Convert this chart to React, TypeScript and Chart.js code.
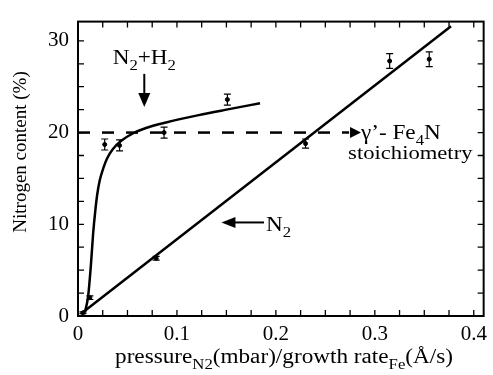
import React, { useEffect, useRef } from 'react';
import Chart from 'chart.js/auto';

// N2+H2 measurements
const h2X = [0.012, 0.027, 0.042, 0.087, 0.151];
const h2Y = [2.0, 18.7, 18.6, 20.0, 23.6];
const h2Err = [0.2, 0.6, 0.6, 0.6, 0.6];

// N2 measurements
const n2X = [0.005, 0.079, 0.23, 0.315, 0.355];
const n2Y = [0.35, 6.3, 18.8, 27.8, 28.0];
const n2Err = [0.1, 0.2, 0.5, 0.8, 0.8];

// N2+H2 guide curve
const h2FitX = [0.007, 0.0103, 0.013, 0.0153, 0.0175, 0.0195, 0.022, 0.0255, 0.0295, 0.0353, 0.0437, 0.0553, 0.0687, 0.089, 0.122, 0.150, 0.184];
const h2FitY = [0.4, 2.2, 5.5, 9.0, 11.5, 13.3, 14.8, 16.1, 17.2, 18.2, 19.1, 19.9, 20.5, 21.1, 21.9, 22.5, 23.2];

// N2 linear fit
const n2FitX = [0.0037, 0.377];
const n2FitY = [0.3, 31.6];

// gamma'-Fe4N stoichiometry line
const stoichX = [0, 0.274];
const stoichY = [20, 20];

// axis ticks (major labelled, minor unlabelled)
const xTickVals = [0, 0.025, 0.05, 0.075, 0.1, 0.125, 0.15, 0.175, 0.2, 0.225, 0.25, 0.275, 0.3, 0.325, 0.35, 0.375, 0.4];
const yTickVals = [0, 2.5, 5, 7.5, 10, 12.5, 15, 17.5, 20, 22.5, 25, 27.5, 30];
const xMajor = [0, 0.1, 0.2, 0.3, 0.4];
const yMajor = [0, 10, 20, 30];
const xLabels = ['0', '0.1', '0.2', '0.3', '0.4'];
const yLabels = ['0', '10', '20', '30'];

const FONT = '"Liberation Serif", "Times New Roman", serif';
const STRETCH = 1.16;

type Seg = { t: string; sub?: boolean };

function drawRich(ctx: CanvasRenderingContext2D, segs: Seg[], x: number, y: number, size: number, align: 'left' | 'center') {
  const subSize = size * 0.72;
  let total = 0;
  const widths = segs.map((s) => {
    ctx.font = `${s.sub ? subSize : size}px ${FONT}`;
    const w = ctx.measureText(s.t).width * STRETCH;
    total += w;
    return w;
  });
  let cx = align === 'center' ? x - total / 2 : x;
  ctx.textAlign = 'left';
  ctx.textBaseline = 'alphabetic';
  segs.forEach((s, i) => {
    ctx.font = `${s.sub ? subSize : size}px ${FONT}`;
    ctx.save();
    ctx.translate(cx, s.sub ? y + size * 0.3 : y);
    ctx.scale(STRETCH, 1);
    ctx.fillText(s.t, 0, 0);
    ctx.restore();
    cx += widths[i];
  });
}

const decorPlugin = {
  id: 'decor',
  afterDatasetsDraw(chart: any) {
    const ctx: CanvasRenderingContext2D = chart.ctx;
    const xs = chart.scales.x;
    const ys = chart.scales.y;
    const { left, right, top, bottom } = chart.chartArea;
    ctx.save();
    ctx.strokeStyle = '#000';
    ctx.fillStyle = '#000';

    // error bars
    const bars = (X: number[], Y: number[], E: number[]) => {
      ctx.lineWidth = 1.2;
      X.forEach((xv, i) => {
        const px = xs.getPixelForValue(xv);
        const y1 = ys.getPixelForValue(Y[i] + E[i]);
        const y2 = ys.getPixelForValue(Y[i] - E[i]);
        ctx.beginPath();
        ctx.moveTo(px, y1); ctx.lineTo(px, y2);
        ctx.moveTo(px - 3.5, y1); ctx.lineTo(px + 3.5, y1);
        ctx.moveTo(px - 3.5, y2); ctx.lineTo(px + 3.5, y2);
        ctx.stroke();
      });
    };
    bars(h2X, h2Y, h2Err);
    bars(n2X, n2Y, n2Err);

    // frame
    ctx.lineWidth = 2;
    ctx.strokeRect(left, top, right - left, bottom - top);

    // inward ticks on all four sides
    ctx.lineWidth = 1.3;
    ctx.beginPath();
    xTickVals.forEach((v) => {
      const px = xs.getPixelForValue(v);
      ctx.moveTo(px, bottom); ctx.lineTo(px, bottom - 6);
      ctx.moveTo(px, top); ctx.lineTo(px, top + 6);
    });
    yTickVals.forEach((v) => {
      const py = ys.getPixelForValue(v);
      ctx.moveTo(left, py); ctx.lineTo(left + 6, py);
      ctx.moveTo(right, py); ctx.lineTo(right - 6, py);
    });
    ctx.stroke();

    // arrowhead on stoichiometry line
    const ay = ys.getPixelForValue(20);
    const ax0 = xs.getPixelForValue(0.275);
    const ax1 = xs.getPixelForValue(0.286);
    ctx.beginPath();
    ctx.moveTo(ax0, ay - 5.5); ctx.lineTo(ax1, ay); ctx.lineTo(ax0, ay + 5.5);
    ctx.closePath(); ctx.fill();

    // down arrow for N2+H2
    const dx = xs.getPixelForValue(0.067);
    const dy0 = ys.getPixelForValue(26.4);
    const dy1 = ys.getPixelForValue(22.8);
    ctx.lineWidth = 2;
    ctx.beginPath(); ctx.moveTo(dx, dy0); ctx.lineTo(dx, dy1 - 12); ctx.stroke();
    ctx.beginPath();
    ctx.moveTo(dx - 6, dy1 - 14); ctx.lineTo(dx, dy1); ctx.lineTo(dx + 6, dy1 - 14);
    ctx.closePath(); ctx.fill();

    // left arrow for N2
    const ly = ys.getPixelForValue(10.2);
    const lx0 = xs.getPixelForValue(0.145);
    const lx1 = xs.getPixelForValue(0.188);
    ctx.beginPath(); ctx.moveTo(lx0 + 12, ly); ctx.lineTo(lx1, ly); ctx.stroke();
    ctx.beginPath();
    ctx.moveTo(lx0 + 14, ly - 5.5); ctx.lineTo(lx0, ly); ctx.lineTo(lx0 + 14, ly + 5.5);
    ctx.closePath(); ctx.fill();

    // annotations
    drawRich(ctx, [{ t: 'N' }, { t: '2', sub: true }, { t: '+H' }, { t: '2', sub: true }],
      xs.getPixelForValue(0.067), ys.getPixelForValue(27.5), 20, 'center');
    drawRich(ctx, [{ t: 'N' }, { t: '2', sub: true }],
      xs.getPixelForValue(0.19), ys.getPixelForValue(9.3), 20, 'left');
    drawRich(ctx, [{ t: 'γ’- Fe' }, { t: '4', sub: true }, { t: 'N' }],
      xs.getPixelForValue(0.286), ys.getPixelForValue(19.3), 20, 'left');
    drawRich(ctx, [{ t: 'stoichiometry' }],
      xs.getPixelForValue(0.273), ys.getPixelForValue(17.1), 19.5, 'left');

    // x axis title
    drawRich(ctx, [
      { t: 'pressure' }, { t: 'N', sub: true }, { t: '2', sub: true },
      { t: '(mbar)/growth rate' }, { t: 'Fe', sub: true }, { t: '(Å/s)' },
    ], 284, 363, 20, 'center');

    // y axis title
    ctx.save();
    ctx.translate(26, 152);
    ctx.rotate(-Math.PI / 2);
    ctx.font = `19px ${FONT}`;
    ctx.textAlign = 'center';
    ctx.textBaseline = 'alphabetic';
    ctx.fillText('Nitrogen content (%)', 0, 0);
    ctx.restore();

    ctx.restore();
  },
};

const labelFor = (v: number, major: number[], labels: string[]) => {
  const i = major.findIndex((m) => Math.abs(m - v) < 1e-6);
  return i >= 0 ? labels[i] : '';
};

export default function App() {
  const ref = useRef<HTMLCanvasElement | null>(null);
  useEffect(() => {
    if (!ref.current) return;
    const pts = (X: number[], Y: number[]) => X.map((x, i) => ({ x, y: Y[i] }));
    const chart = new Chart(ref.current, {
      type: 'scatter',
      data: {
        datasets: [
          { label: 'N2+H2', data: pts(h2X, h2Y), pointRadius: 2, backgroundColor: '#000', borderColor: '#000', showLine: false },
          { label: 'N2', data: pts(n2X, n2Y), pointRadius: 2, backgroundColor: '#000', borderColor: '#000', showLine: false },
          { label: 'fit N2+H2', data: pts(h2FitX, h2FitY), showLine: true, pointRadius: 0, borderColor: '#000', borderWidth: 2.5, cubicInterpolationMode: 'monotone', fill: false },
          { label: 'fit N2', data: pts(n2FitX, n2FitY), showLine: true, pointRadius: 0, borderColor: '#000', borderWidth: 2.5, fill: false },
          { label: 'stoich', data: pts(stoichX, stoichY), showLine: true, pointRadius: 0, borderColor: '#000', borderWidth: 2.5, borderDash: [12, 12], fill: false },
        ],
      } as any,
      plugins: [decorPlugin],
      options: {
        animation: false,
        responsive: true,
        maintainAspectRatio: false,
        layout: { padding: { top: 14, right: 5, left: 0, bottom: 0 } },
        plugins: { legend: { display: false }, tooltip: { enabled: false } },
        scales: {
          x: {
            type: 'linear', min: 0, max: 0.41,
            grid: { display: false, drawTicks: false },
            border: { display: false },
            afterBuildTicks: (s: any) => { s.ticks = xMajor.map((v) => ({ value: v })); },
            afterFit: (s: any) => { s.height = 59; },
            ticks: {
              autoSkip: false, maxRotation: 0, minRotation: 0, padding: 6, color: '#000',
              font: { family: FONT, size: 21 },
              callback: (v: any) => labelFor(Number(v), xMajor, xLabels),
            },
          },
          y: {
            type: 'linear', min: 0, max: 32.1,
            grid: { display: false, drawTicks: false },
            border: { display: false },
            afterBuildTicks: (s: any) => { s.ticks = yMajor.map((v) => ({ value: v })); },
            afterFit: (s: any) => { s.width = 78; },
            ticks: {
              autoSkip: false, padding: 9, color: '#000',
              font: { family: FONT, size: 21 },
              callback: (v: any) => labelFor(Number(v), yMajor, yLabels),
            },
          },
        },
      } as any,
    });
    return () => chart.destroy();
  }, []);
  return (
    <div style={{ position: 'fixed', left: 0, top: 0, width: 493, height: 375, background: '#fff' }}>
      <canvas ref={ref} />
    </div>
  );
}
